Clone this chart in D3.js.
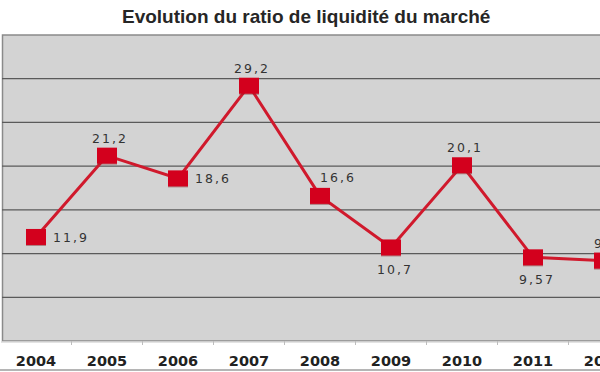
<!DOCTYPE html>
<html>
<head>
<meta charset="utf-8">
<script src="https://cdn.jsdelivr.net/npm/d3@7"></script>
<style>
  body { margin: 0; background: #fff; }
  svg { display: block; }
</style>
</head>
<body>
<script>
(function (d3) {
  'use strict'
  const w = 600
  const h = 372

  const years = [2004, 2005, 2006, 2007, 2008, 2009, 2010, 2011, 2012]
  const values = [11.9, 21.2, 18.6, 29.2, 16.6, 10.7, 20.1, 9.57, 9.2]
  const labels = ['11,9', '21,2', '18,6', '29,2', '16,6', '10,7', '20,1', '9,57', '9,2']
  const labelSide = ['right', 'above', 'right', 'above', 'aboveRight', 'below', 'above', 'below', 'above']
  const gridTicks = [5, 10, 15, 20, 25, 30]

  const top = 35, bottom = 341

  const svg = d3.select('body').append('svg')
    .attr('width', w)
    .attr('height', h)

  // title
  svg.append('text')
    .attr('x', 122)
    .attr('y', 23)
    .style('font-family', '"Liberation Sans", Arial, sans-serif')
    .style('font-weight', 'bold')
    .style('font-size', '19px')
    .attr('fill', '#262626')
    .text('Evolution du ratio de liquidité du marché')

  const x = d3.scaleLinear().domain([2004, 2012]).range([36, 604])
  const y = d3.scaleLinear().domain([0, 35]).range([bottom, top])
  const step = x(2005) - x(2004)
  const xb = d3.scaleBand().domain(years).range([x(2004) - step / 2, x(2012) + step / 2])

  // plot background
  svg.append('rect')
    .attr('x', 2.5).attr('y', top)
    .attr('width', w).attr('height', bottom - top)
    .attr('fill', '#d3d3d3')
    .attr('stroke', '#8a8a8a')
    .attr('stroke-width', 1.5)

  // grid
  svg.append('g')
    .selectAll('line')
    .data(gridTicks)
    .enter().append('line')
    .attr('x1', 2).attr('x2', w)
    .attr('y1', d => y(d)).attr('y2', d => y(d))
    .attr('stroke', '#5a5a5a')
    .attr('stroke-width', 1.3)

  // bottom axis band
  svg.append('rect')
    .attr('x', 0).attr('y', bottom + 0.5)
    .attr('width', w).attr('height', h - bottom)
    .attr('fill', '#fff')

  const axis = svg.append('g')
    .attr('transform', 'translate(0,' + (bottom + 0.5) + ')')
    .call(d3.axisBottom(xb).tickSize(0).tickPadding(14))
  axis.select('.domain').attr('stroke', '#c8c8c8').attr('stroke-width', 1.2)
  axis.selectAll('text')
    .style('font-family', '"DejaVu Sans", Verdana, sans-serif')
    .style('font-weight', 'bold')
    .style('font-size', '14.5px')
    .attr('fill', '#222')
  svg.append('g')
    .selectAll('line')
    .data(years.slice(1))
    .enter().append('line')
    .attr('x1', d => xb(d)).attr('x2', d => xb(d))
    .attr('y1', bottom).attr('y2', bottom + 4)
    .attr('stroke', '#bdbdbd')

  svg.append('line')
    .attr('x1', 0).attr('x2', w)
    .attr('y1', 370).attr('y2', 370)
    .attr('stroke', '#b5b5b5')
    .attr('stroke-width', 2)

  const data = years.map((yr, i) => ({ year: yr, value: values[i], label: labels[i], side: labelSide[i] }))

  // line
  const line = d3.line().x(d => x(d.year)).y(d => y(d.value))
  svg.append('path')
    .datum(data)
    .attr('d', line)
    .attr('fill', 'none')
    .attr('stroke', '#d0192c')
    .attr('stroke-width', 3)

  // markers
  const mk = svg.append('g')
    .selectAll('g')
    .data(data)
    .enter().append('g')
    .attr('transform', d => 'translate(' + x(d.year) + ',' + y(d.value) + ')')
  mk.append('rect')
    .attr('x', -10).attr('y', -7)
    .attr('width', 20).attr('height', 16)
    .attr('fill', '#8c2a2e')
    .attr('opacity', 0.5)
  mk.append('rect')
    .attr('x', -10).attr('y', -8)
    .attr('width', 20).attr('height', 16)
    .attr('fill', '#d3001d')

  // value labels
  const off = {
    right: [17, 5, 'start'],
    above: [3, -13, 'middle'],
    aboveRight: [18, -14, 'middle'],
    below: [4, 27, 'middle']
  }
  mk.append('text')
    .attr('x', d => off[d.side][0])
    .attr('y', d => off[d.side][1])
    .attr('text-anchor', d => off[d.side][2])
    .style('font-family', '"DejaVu Sans", Verdana, sans-serif')
    .style('font-size', '12.5px')
    .style('letter-spacing', '2px')
    .attr('fill', '#333')
    .text(d => d.label)

}(d3))
</script>
</body>
</html>
